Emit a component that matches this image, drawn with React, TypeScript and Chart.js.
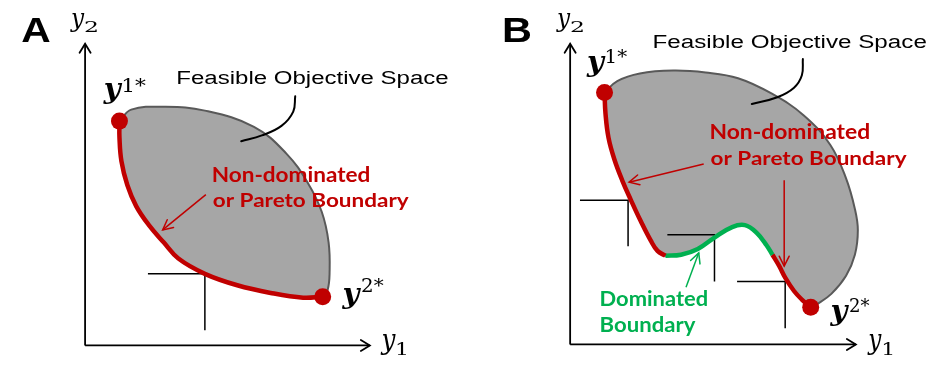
import { useEffect, useRef } from 'react';
import { Chart, registerables } from 'chart.js';

Chart.register(...registerables);

type Pt = { x: number; y: number };

// ---------------- Panel A ----------------
const A_TOP: Pt[] = [
  { x: 113, y: 118 }, { x: 125, y: 106 }, { x: 160, y: 103 }, { x: 200, y: 107 },
  { x: 250, y: 124 }, { x: 283, y: 152 }, { x: 305, y: 183 }, { x: 319, y: 213 },
  { x: 326, y: 245 }, { x: 327, y: 277 }, { x: 325, y: 295 }, { x: 320, y: 302 },
];
const A_PARETO: Pt[] = [
  { x: 113, y: 118 }, { x: 113, y: 135 }, { x: 115, y: 160 }, { x: 121, y: 185 },
  { x: 130, y: 207 }, { x: 143, y: 227 }, { x: 158, y: 245 }, { x: 173, y: 262 },
  { x: 200, y: 278 }, { x: 233, y: 290 }, { x: 267, y: 298 }, { x: 300, y: 303 },
  { x: 320, y: 302 },
];
const A_EXTREMES: Pt[] = [{ x: 113, y: 118 }, { x: 320, y: 302 }];
const A_CORNER: Pt[] = [{ x: 142, y: 278 }, { x: 200, y: 278 }, { x: 200, y: 337 }];
const A_LEADER: Pt[] = [
  { x: 292, y: 92 }, { x: 290, y: 108 }, { x: 278, y: 123 }, { x: 258, y: 133 }, { x: 237, y: 139 },
];
const A_ARROW: Pt[] = [{ x: 201, y: 195 }, { x: 157, y: 232 }];
const A_AXIS_Y: Pt[] = [{ x: 78, y: 353 }, { x: 78, y: 37 }];
const A_AXIS_X: Pt[] = [{ x: 78, y: 353 }, { x: 368, y: 353 }];

// ---------------- Panel B ----------------
const B_TOP: Pt[] = [
  { x: 607, y: 88 }, { x: 620, y: 76 }, { x: 643, y: 68 }, { x: 677, y: 65 },
  { x: 710, y: 67 }, { x: 743, y: 73 }, { x: 777, y: 89 }, { x: 810, y: 112 },
  { x: 837, y: 143 }, { x: 853, y: 178 }, { x: 862, y: 210 }, { x: 865, y: 232 },
  { x: 862, y: 258 }, { x: 853, y: 280 }, { x: 838, y: 299 }, { x: 823, y: 310 },
  { x: 817, y: 313 },
];
const B_PARETO_1: Pt[] = [
  { x: 607, y: 88 }, { x: 608, y: 110 }, { x: 611, y: 135 }, { x: 617, y: 158 },
  { x: 625, y: 180 }, { x: 634, y: 201 }, { x: 644, y: 223 }, { x: 654, y: 243 },
  { x: 661, y: 254 }, { x: 669, y: 259 },
];
const B_DOMINATED: Pt[] = [
  { x: 669, y: 259 }, { x: 685, y: 258 }, { x: 702, y: 252 }, { x: 719, y: 240 },
  { x: 737, y: 229 }, { x: 750, y: 227 }, { x: 762, y: 235 }, { x: 772, y: 248 },
  { x: 778, y: 258 },
];
const B_PARETO_2: Pt[] = [
  { x: 778, y: 258 }, { x: 785, y: 270 }, { x: 791, y: 282 }, { x: 800, y: 296 },
  { x: 808, y: 305 }, { x: 817, y: 313 },
];
const B_EXTREMES: Pt[] = [{ x: 607, y: 88 }, { x: 817, y: 313 }];
const B_CORNER_1: Pt[] = [{ x: 582, y: 201 }, { x: 631, y: 201 }, { x: 631, y: 249 }];
const B_CORNER_2: Pt[] = [{ x: 671, y: 237 }, { x: 719, y: 237 }, { x: 719, y: 286 }];
const B_CORNER_3: Pt[] = [{ x: 742, y: 286 }, { x: 791, y: 286 }, { x: 791, y: 335 }];
const B_LEADER: Pt[] = [
  { x: 809, y: 53 }, { x: 808, y: 70 }, { x: 800, y: 83 }, { x: 783, y: 93 }, { x: 757, y: 100 },
];
const B_ARROW_1: Pt[] = [{ x: 708, y: 163 }, { x: 632, y: 182 }];
const B_ARROW_2: Pt[] = [{ x: 790, y: 180 }, { x: 790, y: 270 }];
const B_GREEN_ARROW: Pt[] = [{ x: 690, y: 292 }, { x: 703, y: 256 }];
const B_AXIS_Y: Pt[] = [{ x: 572, y: 352 }, { x: 572, y: 37 }];
const B_AXIS_X: Pt[] = [{ x: 572, y: 352 }, { x: 863, y: 352 }];

// ---------------- Text ----------------
const PANEL_LETTERS = ['A', 'B'];
const AXIS_VAR = 'y';
const SPACE_LABEL = 'Feasible Objective Space';
const PARETO_LINES = ['Non-dominated', 'or Pareto Boundary'];
const DOMINATED_LINES = ['Dominated', 'Boundary'];

const GRAY_FILL = '#a6a6a6';
const GRAY_EDGE = '#595959';
const RED = '#c00000';
const GREEN = '#00b050';
const BLACK = '#000000';

const SANS = '"Liberation Sans", Arial, sans-serif';
const HUMAN = 'Lato, "Open Sans", sans-serif';
const SERIF = '"DejaVu Serif", serif';

type TextBox = { text: string; font: string; color: string; box: [number, number, number, number] };

const TEXTS: TextBox[] = [
  { text: PANEL_LETTERS[0], font: `bold 36px ${SANS}`, color: BLACK, box: [13, 8, 43, 35] },
  { text: PANEL_LETTERS[1], font: `bold 36px ${SANS}`, color: BLACK, box: [505, 8, 532, 35] },
  // axis labels
  { text: AXIS_VAR, font: `italic 28px ${SERIF}`, color: BLACK, box: [62, 4, 78, 25] },
  { text: '2', font: `20px ${SERIF}`, color: BLACK, box: [78, 13, 90, 25] },
  { text: AXIS_VAR, font: `italic 28px ${SERIF}`, color: BLACK, box: [378, 341, 395, 363] },
  { text: '1', font: `20px ${SERIF}`, color: BLACK, box: [396, 350, 405, 363] },
  { text: AXIS_VAR, font: `italic 28px ${SERIF}`, color: BLACK, box: [557, 4, 573, 25] },
  { text: '2', font: `20px ${SERIF}`, color: BLACK, box: [573, 13, 585, 25] },
  { text: AXIS_VAR, font: `italic 28px ${SERIF}`, color: BLACK, box: [874, 341, 890, 363] },
  { text: '1', font: `20px ${SERIF}`, color: BLACK, box: [891, 350, 900, 363] },
  // extreme point labels
  { text: AXIS_VAR, font: `bold italic 28px ${SERIF}`, color: BLACK, box: [96, 78, 116, 100] },
  { text: '1*', font: `20px ${SERIF}`, color: BLACK, box: [117, 73, 140, 87] },
  { text: AXIS_VAR, font: `bold italic 28px ${SERIF}`, color: BLACK, box: [339, 293, 359, 315] },
  { text: '2*', font: `20px ${SERIF}`, color: BLACK, box: [360, 283, 382, 297] },
  { text: AXIS_VAR, font: `bold italic 28px ${SERIF}`, color: BLACK, box: [588, 50, 608, 72] },
  { text: '1*', font: `20px ${SERIF}`, color: BLACK, box: [609, 43, 630, 57] },
  { text: AXIS_VAR, font: `bold italic 28px ${SERIF}`, color: BLACK, box: [836, 311, 856, 333] },
  { text: '2*', font: `20px ${SERIF}`, color: BLACK, box: [857, 304, 877, 318] },
  // descriptive text
  { text: SPACE_LABEL, font: `22px ${SANS}`, color: BLACK, box: [172, 65, 448, 83] },
  { text: SPACE_LABEL, font: `22px ${SANS}`, color: BLACK, box: [657, 28, 935, 46] },
  { text: PARETO_LINES[0], font: `bold 22px ${HUMAN}`, color: RED, box: [208, 165, 368, 182] },
  { text: PARETO_LINES[1], font: `bold 22px ${HUMAN}`, color: RED, box: [208, 193, 408, 212] },
  { text: PARETO_LINES[0], font: `bold 22px ${HUMAN}`, color: RED, box: [715, 120, 877, 137] },
  { text: PARETO_LINES[1], font: `bold 22px ${HUMAN}`, color: RED, box: [715, 149, 915, 168] },
  { text: DOMINATED_LINES[0], font: `bold 22px ${HUMAN}`, color: GREEN, box: [603, 295, 712, 312] },
  { text: DOMINATED_LINES[1], font: `bold 22px ${HUMAN}`, color: GREEN, box: [603, 323, 700, 343] },
];

const closedOutline = (top: Pt[], bottom: Pt[]) => [...top, ...bottom.slice(0, -1).reverse()];
const B_BOTTOM: Pt[] = [...B_PARETO_1, ...B_DOMINATED.slice(1), ...B_PARETO_2.slice(1)];

const lineDs = (data: Pt[], color: string, width: number, order: number, extra: any = {}) => ({
  type: 'scatter',
  data,
  showLine: true,
  borderColor: color,
  backgroundColor: color,
  borderWidth: width,
  pointRadius: 0,
  pointHoverRadius: 0,
  tension: 0,
  fill: false,
  clip: false,
  order,
  borderCapStyle: 'butt',
  borderJoinStyle: 'miter',
  ...extra,
});

const arrowHeadPlugin = {
  id: 'arrowHeads',
  afterDatasetsDraw(chart: any) {
    const ctx = chart.ctx as CanvasRenderingContext2D;
    chart.data.datasets.forEach((ds: any, i: number) => {
      const head = ds.arrowHead;
      if (!head) return;
      const pts = chart.getDatasetMeta(i).data;
      const a = pts[pts.length - 2];
      const b = pts[pts.length - 1];
      const ang = Math.atan2(b.y - a.y, b.x - a.x);
      const c = Math.cos(ang);
      const s = Math.sin(ang);
      ctx.save();
      ctx.strokeStyle = ds.borderColor;
      ctx.lineWidth = ds.borderWidth;
      ctx.lineCap = 'round';
      ctx.lineJoin = 'miter';
      ctx.beginPath();
      ctx.moveTo(b.x - head.len * c + head.half * s, b.y - head.len * s - head.half * c);
      ctx.lineTo(b.x, b.y);
      ctx.lineTo(b.x - head.len * c - head.half * s, b.y - head.len * s + head.half * c);
      ctx.stroke();
      ctx.restore();
    });
  },
};

const textPlugin = {
  id: 'boxedText',
  afterDatasetsDraw(chart: any) {
    const ctx = chart.ctx as CanvasRenderingContext2D;
    const xs = chart.scales.x;
    const ys = chart.scales.y;
    TEXTS.forEach((t) => {
      const left = xs.getPixelForValue(t.box[0]);
      const right = xs.getPixelForValue(t.box[2]);
      const top = ys.getPixelForValue(t.box[1]);
      const bottom = ys.getPixelForValue(t.box[3]);
      ctx.save();
      ctx.font = t.font;
      ctx.textAlign = 'left';
      ctx.textBaseline = 'alphabetic';
      const m = ctx.measureText(t.text);
      const inkW = m.actualBoundingBoxLeft + m.actualBoundingBoxRight;
      const inkH = m.actualBoundingBoxAscent + m.actualBoundingBoxDescent;
      const sx = (right - left) / inkW;
      const sy = (bottom - top) / inkH;
      ctx.translate(left, top);
      ctx.scale(sx, sy);
      ctx.fillStyle = t.color;
      ctx.fillText(t.text, m.actualBoundingBoxLeft, m.actualBoundingBoxAscent);
      ctx.restore();
    });
  },
};

export default function App() {
  const ref = useRef<HTMLCanvasElement | null>(null);

  useEffect(() => {
    if (!ref.current) return;
    const axisHead = { len: 9, half: 5.5 };
    const smallHead = { len: 10, half: 5 };
    const datasets: any[] = [
      lineDs(closedOutline(A_TOP, A_PARETO), GRAY_EDGE, 2, 20, { fill: 'shape', backgroundColor: GRAY_FILL, tension: 0.4 }),
      lineDs(closedOutline(B_TOP, B_BOTTOM), GRAY_EDGE, 2, 20, { fill: 'shape', backgroundColor: GRAY_FILL, tension: 0.4 }),
      lineDs(A_CORNER, BLACK, 1.5, 12),
      lineDs(B_CORNER_1, BLACK, 1.5, 12),
      lineDs(B_CORNER_2, BLACK, 1.5, 12),
      lineDs(B_CORNER_3, BLACK, 1.5, 12),
      lineDs(A_PARETO, RED, 4.5, 10, { tension: 0.4 }),
      lineDs(B_PARETO_1, RED, 4.5, 10, { tension: 0.4 }),
      lineDs(B_DOMINATED, GREEN, 4.5, 10, { tension: 0.4 }),
      lineDs(B_PARETO_2, RED, 4.5, 10, { tension: 0.4 }),
      lineDs(A_LEADER, BLACK, 2, 8, { tension: 0.4, borderCapStyle: 'round' }),
      lineDs(B_LEADER, BLACK, 2, 8, { tension: 0.4, borderCapStyle: 'round' }),
      lineDs(A_ARROW, RED, 1.5, 8, { arrowHead: smallHead }),
      lineDs(B_ARROW_1, RED, 1.5, 8, { arrowHead: smallHead }),
      lineDs(B_ARROW_2, RED, 1.5, 8, { arrowHead: smallHead }),
      lineDs(B_GREEN_ARROW, GREEN, 1.5, 8, { arrowHead: smallHead }),
      lineDs(A_AXIS_Y, BLACK, 1.8, 8, { arrowHead: axisHead }),
      lineDs(A_AXIS_X, BLACK, 1.8, 8, { arrowHead: axisHead }),
      lineDs(B_AXIS_Y, BLACK, 1.8, 8, { arrowHead: axisHead }),
      lineDs(B_AXIS_X, BLACK, 1.8, 8, { arrowHead: axisHead }),
      {
        type: 'scatter', data: A_EXTREMES, showLine: false, pointRadius: 8.5, pointHoverRadius: 8.5,
        backgroundColor: RED, borderColor: RED, borderWidth: 0, clip: false, order: 1,
      },
      {
        type: 'scatter', data: B_EXTREMES, showLine: false, pointRadius: 8.5, pointHoverRadius: 8.5,
        backgroundColor: RED, borderColor: RED, borderWidth: 0, clip: false, order: 1,
      },
    ];

    const chart = new Chart(ref.current, {
      type: 'scatter',
      data: { datasets },
      options: {
        responsive: false,
        animation: false,
        devicePixelRatio: 1,
        events: [],
        layout: { padding: 0 },
        scales: {
          x: { type: 'linear', min: 0, max: 939, display: false },
          y: { type: 'linear', min: 0, max: 373, reverse: true, display: false },
        },
        plugins: { legend: { display: false }, tooltip: { enabled: false } },
      } as any,
      plugins: [arrowHeadPlugin, textPlugin],
    } as any);
    return () => chart.destroy();
  }, []);

  return (
    <div style={{ position: 'fixed', left: 0, top: 0, width: 939, height: 373, background: '#ffffff' }}>
      <canvas ref={ref} width={939} height={373} style={{ display: 'block' }} />
    </div>
  );
}
